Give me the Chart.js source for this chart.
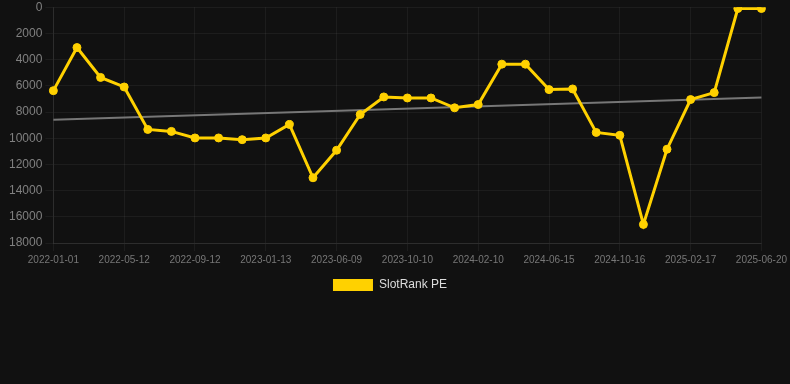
<!DOCTYPE html>
<html>
<head>
<meta charset="utf-8">
<script src="https://cdn.jsdelivr.net/npm/chart.js@4.4.1/dist/chart.umd.min.js"></script>
<style>
  html, body { margin: 0; padding: 0; background: #111111; overflow: hidden; }
  #wrap { position: relative; width: 790px; height: 304px; margin-top: -3px; }
</style>
</head>
<body>
<div id="wrap"><canvas id="c"></canvas></div>
<script>
const categories = [
  '2022-01-01','2022-02-14','2022-03-29','2022-05-12','2022-06-22','2022-08-02',
  '2022-09-12','2022-10-23','2022-12-03','2023-01-13','2023-03-03','2023-04-21',
  '2023-06-09','2023-07-20','2023-08-30','2023-10-10','2023-11-20','2023-12-31',
  '2024-02-10','2024-03-22','2024-05-04','2024-06-15','2024-07-26','2024-09-05',
  '2024-10-16','2024-11-27','2025-01-07','2025-02-17','2025-03-30','2025-05-10',
  '2025-06-20'
];
const slotRankPE = [
  6370, 3080, 5360, 6090, 9330, 9480, 9980, 9980, 10110, 9980, 8950, 13020,
  10920, 8190, 6850, 6930, 6930, 7680, 7430, 4350, 4350, 6290, 6240, 9560,
  9780, 16580, 10840, 7050, 6520, 100, 100
];
const trendStart = 8600;
const trendEnd = 6900;
const yTicks = { min: 0, max: 18000, step: 2000 };

const trend = categories.map((_, i) => i === 0 ? trendStart : (i === categories.length - 1 ? trendEnd : null));

const legendShift = {
  id: 'legendShift',
  afterLayout(chart) {
    if (chart.legend) { chart.legend.left -= 6; chart.legend.right -= 6; }
  }
};

new Chart(document.getElementById('c'), {
  type: 'line',
  data: {
    labels: categories,
    datasets: [
      {
        label: 'SlotRank PE',
        data: slotRankPE,
        borderColor: '#FFD100',
        backgroundColor: '#FFD100',
        borderWidth: 3,
        pointRadius: 4,
        pointBorderWidth: 1,
        pointHoverRadius: 4,
        pointBackgroundColor: '#FFD100',
        pointBorderColor: '#FFD100',
        tension: 0,
        order: 1
      },
      {
        label: 'trend',
        data: trend,
        borderColor: '#777777',
        borderWidth: 2,
        pointRadius: 0,
        spanGaps: true,
        tension: 0,
        order: 2
      }
    ]
  },
  plugins: [legendShift],
  options: {
    responsive: true,
    maintainAspectRatio: false,
    animation: false,
    layout: { padding: { left: 6, right: 4, top: 0, bottom: 0 } },
    plugins: {
      tooltip: { enabled: false },
      legend: {
        position: 'bottom',
        labels: {
          color: '#dddddd',
          font: { size: 12, family: 'Liberation Sans, Arial, sans-serif' },
          boxWidth: 40,
          boxHeight: 12,
          filter: (item) => item.text !== 'trend',
          generateLabels: (chart) => {
            const items = Chart.defaults.plugins.legend.labels.generateLabels(chart);
            items.forEach(it => { it.lineWidth = 0; it.strokeStyle = 'rgba(0,0,0,0)'; });
            return items;
          }
        }
      }
    },
    scales: {
      x: {
        grid: { color: 'rgba(255,255,255,0.05)', drawTicks: true },
        border: { color: 'rgba(255,255,255,0.08)' },
        ticks: {
          color: '#777777',
          font: { size: 10, family: 'Liberation Sans, Arial, sans-serif' },
          autoSkip: false,
          maxRotation: 0,
          minRotation: 0,
          callback: function (val, idx) { return idx % 3 === 0 ? this.getLabelForValue(val) : null; }
        }
      },
      y: {
        reverse: true,
        min: yTicks.min,
        max: yTicks.max,
        grid: { color: 'rgba(255,255,255,0.05)' },
        border: { color: 'rgba(255,255,255,0.08)' },
        ticks: {
          stepSize: yTicks.step,
          color: '#808080',
          font: { size: 12, family: 'Liberation Sans, Arial, sans-serif' },
          callback: (v) => String(v)
        }
      }
    }
  }
});
</script>
</body>
</html>
